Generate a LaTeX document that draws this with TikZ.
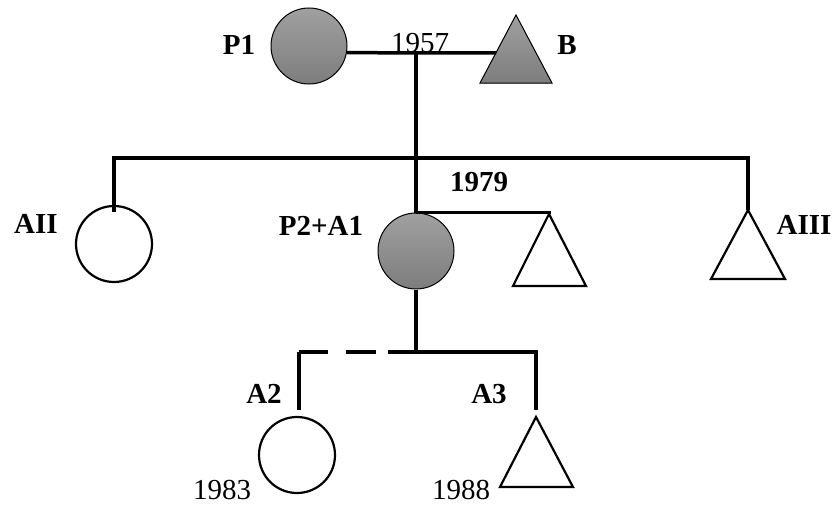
\documentclass[tikz,border=0pt]{standalone}
\usepackage{fontspec}
\setmainfont{Liberation Serif}
\begin{document}
\begin{tikzpicture}[x=1pt,y=-1pt,
  conn/.style={line width=3.5pt},
  shp/.style={draw, line width=2.2pt},
  thin/.style={draw, line width=1pt},
  grayfill/.style={top color={rgb,255:red,160;green,160;blue,160}, bottom color={rgb,255:red,125;green,125;blue,125}},
  person/.style={circle, minimum size=76pt, inner sep=0pt},
  lab/.style={font=\fontsize{29}{30}\selectfont\bfseries, inner sep=0pt},
  yr/.style={font=\fontsize{29}{30}\selectfont, inner sep=0pt, anchor=base}]
\useasboundingbox (0,0) rectangle (836,506);
% persons (circles)
\node[person, thin, grayfill] (P1) at (309,46) {};
\node[person, shp] (AII) at (114,244) {};
\node[person, thin, grayfill] (P2) at (416,251) {};
\node[person, shp] (A2) at (297,455) {};
% triangle apexes
\coordinate (Btop) at (516,15);
\coordinate (T1top) at (549,214);
\coordinate (AIIItop) at (748,210);
\coordinate (A3top) at (536,417);
% triangles
\filldraw[line width=1pt, grayfill] (Btop) -- ++(-36,68) -- ++(72,0) -- cycle;
\draw[line width=2.2pt] (T1top) -- ++(-36,72) -- ++(73,0) -- cycle;
\draw[line width=2.2pt] (AIIItop) -- ++(-37,69) -- ++(74,0) -- cycle;
\draw[line width=2.2pt] (A3top) -- ++(-36,70) -- ++(73,0) -- cycle;
% connection points
\coordinate (Bl) at (496,53);
\coordinate (mar) at (416,53);
\coordinate (sibL) at (114,158);
\coordinate (sibR) at (748,158);
\coordinate (AIIstub) at (114,212);
\coordinate (kid) at (416,352);
\coordinate (kL) at (299,352);
\coordinate (kLd) at (388,352);
\coordinate (kR) at (536,352);
\coordinate (A2stub) at (299,410);
\coordinate (A3stub) at (536,410);
% connectors
\draw[conn] (P1.-10) -- (Bl);
\draw[conn] (mar) -- (P2.north);
\draw[conn] (AIIstub) -- (sibL) -- (sibR) -- (AIIItop);
\draw[conn] (P2.north) -- (P2.north -| T1top) -- (T1top);
\draw[conn] (P2.south) -- (kid);
\draw[conn] (A2stub) -- (kL);
\draw[conn, dash pattern=on 29pt off 18pt on 30pt off 12pt] (kL) -- (kLd);
\draw[conn] (kLd) -- (kR) -- (A3stub);
% labels
\node[lab] (lP1) at (239,45) {P1};
\node[lab] (lB) at (567,45) {B};
\node[lab] (lAII) at (36,224) {AII};
\node[lab] (lP2) at (321,226) {P2+A1};
\node[lab] (lAIII) at (804,225) {AIII};
\node[lab] (l1979) at (479,182) {1979};
\node[lab] (lA2) at (264,394) {A2};
\node[lab] (lA3) at (489,394) {A3};
\node[yr] (y1957) at (420,52) {1957};
\node[yr] (y1983) at (222,499) {1983};
\node[yr] (y1988) at (461,499) {1988};
\end{tikzpicture}
\end{document}
